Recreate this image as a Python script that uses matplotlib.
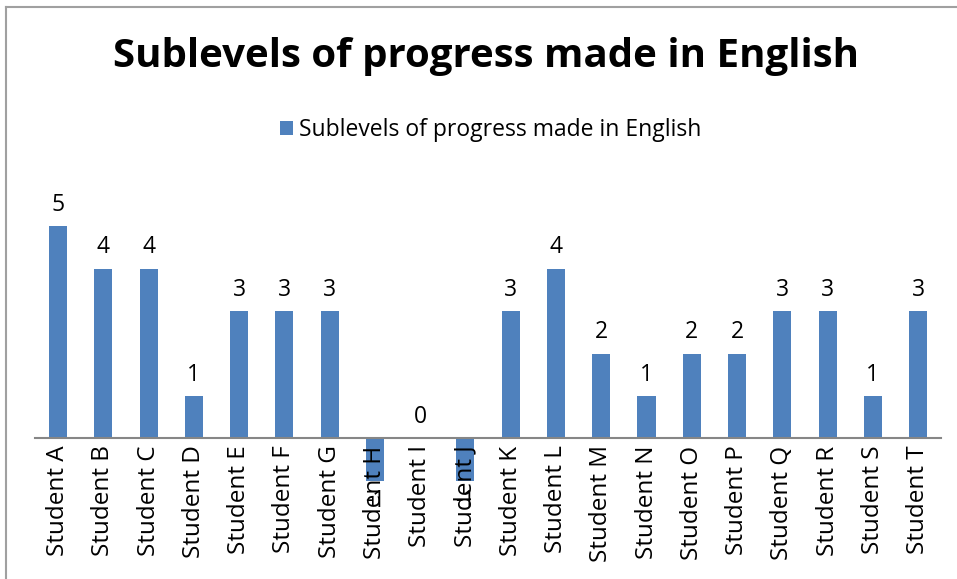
import matplotlib.pyplot as plt
from matplotlib.lines import Line2D

students = ["Student " + c for c in "ABCDEFGHIJKLMNOPQRST"]
progress = [5, 4, 4, 1, 3, 3, 3, -1, 0, -1, 3, 4, 2, 1, 2, 2, 3, 3, 1, 3]

title = "Sublevels of progress made in English"
bar_color = "#4F81BD"

plt.rcParams["font.family"] = ["Open Sans", "DejaVu Sans"]

fig = plt.figure(figsize=(9.57, 5.79), dpi=100)
ax = fig.add_axes([0.037, 0.1693, 0.946, 0.477])

# spine position first: moving it resets the tick properties
for side in ["top", "right", "left"]:
    ax.spines[side].set_visible(False)
ax.spines["bottom"].set_position(("data", 0))
ax.spines["bottom"].set_color("#868686")
ax.spines["bottom"].set_linewidth(1.5)

x = range(len(students))
bars = ax.bar(x, progress, width=0.4, color=bar_color, label=title, zorder=1)

for xi, v in zip(x, progress):
    if v >= 0:
        ax.text(xi, v + 0.22, str(v), ha="center", va="bottom", fontsize=16.5, zorder=3)
    else:
        ax.text(xi, v - 0.2, str(v), ha="center", va="top", fontsize=16.5, zorder=1.2)

ax.set_xlim(-0.5, len(students) - 0.5)
ax.set_ylim(-1, 5.5)
ax.set_yticks([])
ax.set_xticks(list(x))
ax.set_xticklabels(students, rotation=90, fontsize=17.5)
ax.tick_params(axis="x", length=0, pad=5)
ax.xaxis.set_zorder(2)

fig.text(0.508, 1 - 57 / 579, title, ha="center", va="center",
         fontsize=29, fontweight="bold")
fig.legend(handles=[bars], loc="center", bbox_to_anchor=(0.513, 1 - 130 / 579),
           frameon=False, fontsize=16.5, handlelength=0.55, handleheight=0.55,
           handletextpad=0.3)

# chart border (left and top edges visible)
fig.add_artist(Line2D([6 / 957, 6 / 957], [0, 1 - 7 / 579], color="#a0a0a0", lw=1.5,
                      transform=fig.transFigure))
fig.add_artist(Line2D([6 / 957, 1], [1 - 7 / 579, 1 - 7 / 579], color="#a0a0a0", lw=1.5,
                      transform=fig.transFigure))

plt.savefig("out.png", dpi=100)
